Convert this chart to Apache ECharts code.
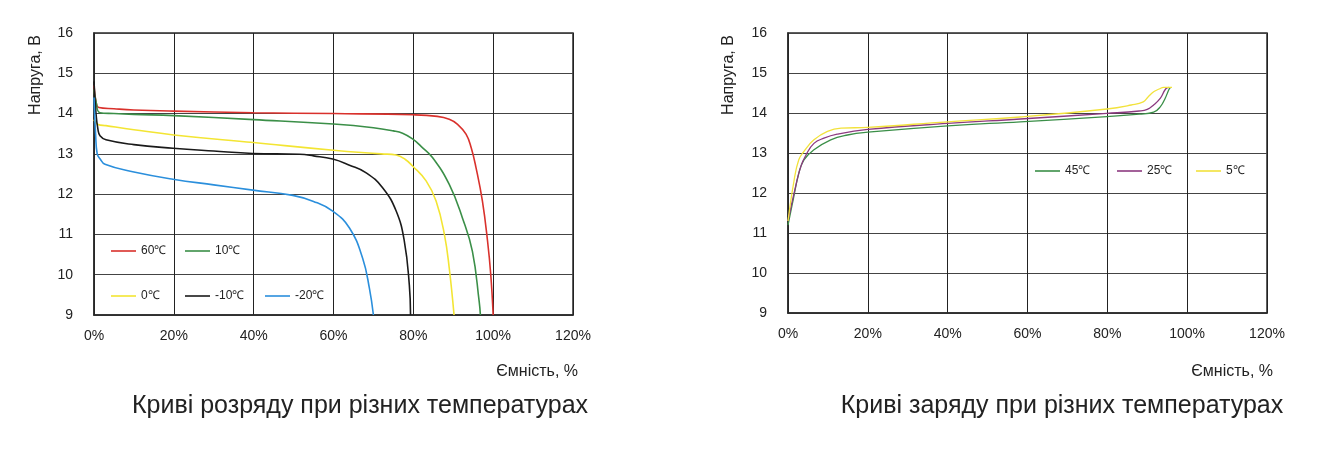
<!DOCTYPE html>
<html>
<head>
<meta charset="utf-8">
<script src="https://cdn.jsdelivr.net/npm/echarts@6/dist/echarts.min.js"></script>
<style>
html,body{margin:0;padding:0;background:#fff;}
#c{width:1324px;height:454px;}
</style>
</head>
<body>
<div id="c"></div>
<script>
// ---- Data ----
const xTicks = [0, 20, 40, 60, 80, 100, 120];   // capacity, %
const yTicks = [9, 10, 11, 12, 13, 14, 15, 16];  // voltage, V

const dischargeNames = ['60℃', '10℃', '0℃', '-10℃', '-20℃'];
const chargeNames = ['45℃', '25℃', '5℃'];

// Discharge curves: [capacity %, voltage V]
const dis60 = [[0,14.7],[0.5,14.3],[1.2,14.15],[5,14.12],[10,14.09],[20,14.06],[40,14.02],[60,14.0],[80,13.97],[86,13.93],[89,13.86],[91,13.74],[93.2,13.49],[94.5,13.15],[95.7,12.66],[97.3,11.83],[98.6,10.83],[99.4,10.0],[100,9.0]];
const dis10 = [[0,14.6],[0.5,14.3],[1.5,14.02],[5,14.0],[10,13.98],[20,13.95],[40,13.85],[60,13.74],[70,13.65],[75,13.57],[77.3,13.51],[79.8,13.37],[82,13.18],[84.8,12.91],[89,12.24],[92.3,11.41],[94.8,10.58],[96.5,9.33],[96.8,9.0]];
const dis0 = [[0,13.85],[1,13.73],[3,13.7],[10,13.6],[20,13.47],[40,13.28],[60,13.09],[72,13.0],[75.7,12.97],[78,12.86],[79.8,12.7],[83.2,12.33],[85.7,11.83],[87.8,10.99],[89,10.16],[90.2,9.0]];
const disM10 = [[0,14.8],[0.5,14.0],[1,13.6],[1.5,13.45],[3,13.35],[10,13.23],[19.8,13.14],[30,13.07],[39.8,13.01],[51.5,12.99],[55,12.95],[59.8,12.87],[64,12.72],[68.2,12.53],[72.3,12.16],[75.7,11.58],[77.75,10.83],[79,9.74],[79.3,9.0]];
const disM20 = [[0,14.4],[0.4,13.5],[0.8,13.0],[1.5,12.88],[2.75,12.74],[10,12.55],[19.8,12.37],[30,12.23],[39.8,12.1],[49.8,11.97],[55,11.82],[59.8,11.58],[64,11.16],[67.3,10.41],[69,9.66],[70,9.0]];

// Charge curves: [capacity %, voltage V]
const chg45 = [[0,11.2],[1.3,11.83],[2.7,12.49],[4,12.83],[6.5,13.08],[10.7,13.33],[14.9,13.45],[20,13.52],[40,13.68],[58.2,13.78],[79.9,13.91],[88,13.97],[91.6,14.02],[93.3,14.16],[94.5,14.37],[95.4,14.58],[95.8,14.64]];
const chg25 = [[0,11.3],[1.9,12.16],[3.2,12.66],[4.5,12.95],[6.5,13.24],[9,13.37],[12.3,13.47],[20,13.59],[40,13.74],[58.2,13.85],[79.9,13.99],[88,14.05],[90,14.09],[91.6,14.2],[93.3,14.37],[94.6,14.6],[95.4,14.64]];
const chg5 = [[0,11.3],[1.5,12.3],[2.7,12.83],[4,13.04],[6.5,13.33],[9.9,13.54],[13.3,13.62],[20,13.64],[40,13.78],[58.2,13.9],[79.9,14.1],[86,14.2],[89,14.28],[90.2,14.4],[91.6,14.53],[93,14.6],[94.1,14.64],[96.2,14.64]];

const dischargeData = [dis60, dis10, dis0, disM10, disM20];
const chargeData = [chg45, chg25, chg5];
const dischargeColors = ['#d9312c', '#3b8f48', '#f3e533', '#1a1a1a', '#2b8fdc'];
const chargeColors = ['#3b8f48', '#8c3a80', '#f2e23c'];

// ---- Chart ----
const FONT = '"Liberation Sans", Arial, Helvetica, sans-serif';
const chart = echarts.init(document.getElementById('c'));

function xAxisCfg(gi) {
  return {
    type: 'value', gridIndex: gi, min: xTicks[0], max: xTicks[xTicks.length - 1], interval: 20,
    axisLine: { show: true, lineStyle: { color: '#2a2a2a', width: 1.5 } },
    axisTick: { show: false },
    axisLabel: { formatter: '{value}%', color: '#222', fontSize: 14, fontFamily: FONT, margin: 14 },
    splitLine: { show: true, lineStyle: { color: '#222', width: 1 } }
  };
}
function yAxisCfg(gi) {
  return {
    type: 'value', gridIndex: gi, min: yTicks[0], max: yTicks[yTicks.length - 1], interval: 1,
    axisLine: { show: true, lineStyle: { color: '#2a2a2a', width: 1.5 } },
    axisTick: { show: false },
    axisLabel: { color: '#222', fontSize: 14, fontFamily: FONT, margin: 21 },
    splitLine: { show: true, lineStyle: { color: '#444', width: 1 } }
  };
}

const series = [];
dischargeNames.forEach((n, i) => {
  series.push({
    name: n, type: 'line', xAxisIndex: 0, yAxisIndex: 0, data: dischargeData[i],
    showSymbol: false, symbol: 'none', smooth: 0.45,
    lineStyle: { color: dischargeColors[i], width: 1.6 }, itemStyle: { color: dischargeColors[i] },
    z: 3
  });
});
chargeNames.forEach((n, i) => {
  series.push({
    name: n, type: 'line', xAxisIndex: 1, yAxisIndex: 1, data: chargeData[i],
    showSymbol: false, symbol: 'none', smooth: 0.45,
    lineStyle: { color: chargeColors[i], width: 1.3 }, itemStyle: { color: chargeColors[i] },
    z: 3
  });
});

const legendPos = {
  '60℃': [111, 245], '10℃': [185, 245],
  '0℃': [111, 290], '-10℃': [185, 290], '-20℃': [265, 290],
  '45℃': [1035, 165], '25℃': [1117, 165], '5℃': [1196, 165]
};
const legends = Object.keys(legendPos).map(n => ({
  data: [n], left: legendPos[n][0], top: legendPos[n][1], padding: 0,
  icon: 'rect', itemWidth: 25, itemHeight: 1.6,
  textStyle: { fontSize: 12, color: '#222', fontFamily: FONT },
  selectedMode: false
}));

function txt(text, x, y, size, align, rot) {
  return {
    type: 'text', x: x, y: y, rotation: rot || 0,
    style: { text: text, fill: '#222', font: size + 'px ' + FONT, textAlign: align, textVerticalAlign: 'middle' }
  };
}

chart.setOption({
  animation: false,
  backgroundColor: '#fff',
  grid: [
    { left: 94, top: 33, width: 479, height: 282, show: true, borderColor: '#2a2a2a', borderWidth: 1.5, backgroundColor: 'transparent' },
    { left: 788, top: 33, width: 479, height: 280, show: true, borderColor: '#2a2a2a', borderWidth: 1.5, backgroundColor: 'transparent' }
  ],
  xAxis: [xAxisCfg(0), xAxisCfg(1)],
  yAxis: [yAxisCfg(0), yAxisCfg(1)],
  legend: legends,
  series: series,
  graphic: [
    txt('Напруга, В', 36, 75, 16, 'center', Math.PI / 2),
    txt('Напруга, В', 729, 75, 16, 'center', Math.PI / 2),
    txt('Ємність, %', 578, 372, 16, 'right'),
    txt('Ємність, %', 1273, 372, 16, 'right'),
    txt('Криві розряду при різних температурах', 360, 406, 25, 'center'),
    txt('Криві заряду при різних температурах', 1062, 406, 25, 'center')
  ]
});
</script>
</body>
</html>
